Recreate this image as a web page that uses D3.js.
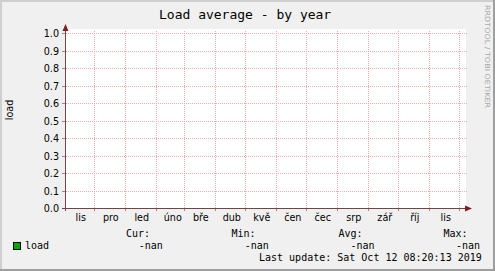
<!DOCTYPE html>
<html><head><meta charset="utf-8">
<script src="https://cdn.jsdelivr.net/npm/d3@7"></script>
<style>html,body{margin:0;padding:0;background:#f0f0f0;}svg{display:block;}</style>
</head><body>
<script>
// ---- data ----
const title = "Load average - by year";
const yLabel = "load";
const yTickValues = [0.0,0.1,0.2,0.3,0.4,0.5,0.6,0.7,0.8,0.9,1.0];
const monthGridDates = ["2018-12-01","2019-01-01","2019-02-01","2019-03-01","2019-04-01","2019-05-01","2019-06-01","2019-07-01","2019-08-01","2019-09-01","2019-10-01","2019-11-01","2019-12-01"];
const monthLabelDates = ["2018-11-01","2018-12-01","2019-01-01","2019-02-01","2019-03-01","2019-04-01","2019-05-01","2019-06-01","2019-07-01","2019-08-01","2019-09-01","2019-10-01","2019-11-01"];
const monthLabels = ["lis","pro","led","úno","bře","dub","kvě","čen","čec","srp","zář","říj","lis"];
const seriesName = "load";
const seriesValues = []; // no data: all NaN
const legendHeaders = ["Cur:","Min:","Avg:","Max:"];
const legendValues = ["-nan","-nan","-nan","-nan"];
const lastUpdate = "Last update: Sat Oct 12 08:20:13 2019";
const watermark = "RRDTOOL / TOBI OETIKER";

// ---- drawing ----
const W = 495, H = 271;
const svg = d3.select("body").append("svg").attr("width", W).attr("height", H);
const mono = "'DejaVu Sans Mono', monospace";
const sans = "'DejaVu Sans', sans-serif";

// background + 3D border
svg.append("rect").attr("width", W).attr("height", H).attr("fill", "#f0f0f0");
svg.append("rect").attr("x",0).attr("y",0).attr("width",W).attr("height",2).attr("fill","#cfcfcf");
svg.append("rect").attr("x",0).attr("y",0).attr("width",2).attr("height",H).attr("fill","#cfcfcf");
svg.append("rect").attr("x",0).attr("y",H-2).attr("width",W).attr("height",2).attr("fill","#9e9e9e");
svg.append("rect").attr("x",W-2).attr("y",0).attr("width",2).attr("height",H).attr("fill","#9e9e9e");

const dayMs = 86400000;
const t0 = new Date(Date.UTC(2018,10,1,17,0,0));
const t1 = new Date(t0.getTime() + 400*dayMs);
const x = d3.scaleUtc().domain([t0, t1]).range([65, 465]);
const y = d3.scaleLinear().domain([0, 1]).range([208.5, 33.5]);
const px = v => Math.floor(x(v));
const py = v => Math.floor(y(v));
const parse = s => new Date(s + "T00:00:00Z");

// plot canvas
svg.append("rect").attr("x", 65).attr("y", 29).attr("width", 401).attr("height", 180).attr("fill", "#ffffff");

const gridColor = "#f2acac";
// dotted grid drawn as 1px pixels, every other pixel
const hDots = [];
yTickValues.forEach(v => { for (let xx = 66; xx <= 466; xx += 2) hDots.push([xx, py(v)]); });
const vDots = [];
monthGridDates.map(parse).forEach(d => { for (let yy = 31; yy < 208; yy += 2) vDots.push([px(d), yy]); });
svg.append("g").attr("shape-rendering", "crispEdges").attr("fill", gridColor)
  .selectAll("rect").data(hDots.concat(vDots)).join("rect")
  .attr("x", d => d[0]).attr("y", d => d[1]).attr("width", 1).attr("height", 1);

// series line (no finite values -> nothing drawn)
const line = d3.line().defined(d => isFinite(d[1])).x(d => x(d[0])).y(d => y(d[1]));
svg.append("path").datum(seriesValues).attr("d", line).attr("fill","none").attr("stroke","#00cc00");

// ticks
const tickColor = "#c07878";
svg.append("g").attr("shape-rendering", "crispEdges").selectAll("line").data(yTickValues).join("line")
  .attr("x1", 62).attr("x2", 65).attr("y1", d => py(d) + 0.5).attr("y2", d => py(d) + 0.5).attr("stroke", tickColor);
svg.append("g").attr("shape-rendering", "crispEdges").selectAll("line").data(monthGridDates.map(parse)).join("line")
  .attr("x1", d => px(d) + 0.5).attr("x2", d => px(d) + 0.5).attr("y1", 208).attr("y2", 211).attr("stroke", tickColor);

// axes
const axisColor = "#6e4646";
svg.append("line").attr("x1", 65.5).attr("x2", 65.5).attr("y1", 30).attr("y2", 211).attr("stroke", axisColor);
svg.append("line").attr("x1", 62).attr("x2", 467).attr("y1", 208.5).attr("y2", 208.5).attr("stroke", axisColor);
const arrowColor = "#7f1f1f";
svg.append("path").attr("d", "M65.5,24 L68.5,31 L62.5,31 Z").attr("fill", arrowColor);
svg.append("path").attr("d", "M472,208.5 L465,205.5 L465,211.5 Z").attr("fill", arrowColor);

// y tick labels
svg.append("g").selectAll("text").data(yTickValues).join("text")
  .attr("x", 59).attr("y", d => py(d) + 4).attr("text-anchor", "end")
  .attr("font-family", sans).attr("font-size", "9.6px").attr("fill", "#000")
  .text(d => d3.format(".1f")(d));

// x tick labels (centred mid-month)
svg.append("g").selectAll("text").data(monthLabels).join("text")
  .attr("x", (d, i) => x(new Date(parse(monthLabelDates[i]).getTime() + 15*dayMs)) + 1.5)
  .attr("y", 221).attr("text-anchor", "middle")
  .attr("font-family", sans).attr("font-size", "9.6px").attr("fill", "#000")
  .text(d => d);

// title
svg.append("text").attr("x", 159).attr("y", 18.5).attr("font-family", mono).attr("font-size", "13px")
  .attr("fill", "#000").text(title);

// vertical label
svg.append("text").attr("transform", "translate(12.5,110) rotate(-90)").attr("text-anchor", "middle")
  .attr("font-family", sans).attr("font-size", "9.6px").attr("fill", "#000").text(yLabel);

// watermark
svg.append("text").attr("transform", "translate(485,5) rotate(90)")
  .attr("font-family", sans).attr("font-size", "7px").attr("fill", "#a8a8a8")
  .attr("textLength", 103).attr("lengthAdjust", "spacingAndGlyphs").text(watermark);

// legend
const legHeadX = [126, 231.5, 338.5, 443.5];
const legValX = [138.7, 244.7, 350.4, 456];
svg.append("g").selectAll("text").data(legendHeaders).join("text")
  .attr("x", (d, i) => legHeadX[i]).attr("y", 237)
  .attr("font-family", mono).attr("font-size", "10px").attr("fill", "#000").text(d => d);
svg.append("rect").attr("x", 13.5).attr("y", 242.5).attr("width", 7).attr("height", 7)
  .attr("fill", "#00aa00").attr("stroke", "#000");
svg.append("text").attr("x", 25).attr("y", 249).attr("font-family", mono).attr("font-size", "10px")
  .attr("fill", "#000").text(seriesName);
svg.append("g").selectAll("text").data(legendValues).join("text")
  .attr("x", (d, i) => legValX[i]).attr("y", 249)
  .attr("font-family", mono).attr("font-size", "10px").attr("fill", "#000").text(d => d);
svg.append("text").attr("x", 259).attr("y", 260.5).attr("font-family", mono).attr("font-size", "10px")
  .attr("fill", "#000").text(lastUpdate);
</script>
</body></html>
